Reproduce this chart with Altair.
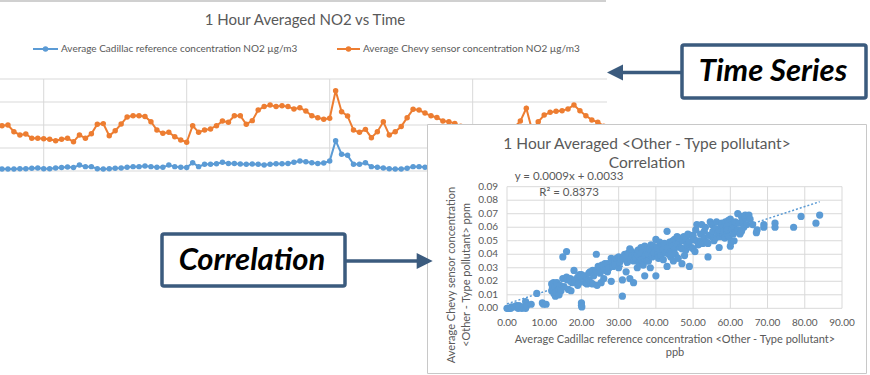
import altair as alt
import pandas as pd

# ---------------- data: time series (hourly) ----------------
hours = list(range(102))
chevy_no2 = [
    19.7, 20.0, 17.1, 15.7, 16.1, 14.2, 14.2, 14.0, 13.8, 13.2,
    13.8, 14.2, 12.7, 15.7, 14.2, 16.2, 20.3, 20.6, 15.3, 17.5,
    20.4, 23.5, 24.0, 24.0, 23.7, 21.4, 17.8, 16.4, 16.8, 14.9,
    13.5, 12.5, 19.7, 16.8, 17.8, 18.3, 19.7, 21.7, 21.2, 24.0,
    24.0, 20.3, 21.9, 26.5, 28.0, 28.7, 28.0, 28.4, 28.0, 27.0,
    27.5, 26.1, 24.0, 23.2, 22.5, 22.9, 34.9, 25.8, 23.9, 17.8,
    16.8, 18.1, 14.5, 17.1, 21.4, 15.7, 17.1, 19.3, 23.2, 26.8,
    26.5, 25.2, 24.0, 23.3, 21.7, 21.4, 20.7, 19.5, 18.0, 16.5,
    15.5, 15.0, 14.5, 14.8, 15.5, 17.0, 19.0, 21.7, 27.3, 17.5,
    21.4, 24.3, 25.5, 26.0, 26.2, 27.0, 28.7, 26.2, 24.0, 22.2,
    21.2, 19.5,
]
cadillac_no2 = [
    0.9, 0.9, 0.9, 1.0, 1.0, 1.2, 1.3, 1.0, 1.0, 1.3,
    1.5, 1.7, 1.5, 2.6, 1.9, 1.9, 1.0, 0.9, 1.0, 1.2,
    1.3, 1.6, 1.9, 1.9, 2.2, 1.9, 1.6, 1.6, 2.6, 1.9,
    1.6, 1.5, 3.6, 1.9, 2.9, 2.9, 3.2, 3.8, 3.3, 3.3,
    3.0, 2.9, 3.0, 2.9, 2.6, 2.9, 3.2, 3.2, 3.3, 3.8,
    4.3, 4.0, 3.6, 3.3, 3.5, 4.3, 13.2, 7.3, 6.8, 2.9,
    2.9, 3.6, 1.9, 1.6, 1.3, 1.0, 0.9, 0.9, 1.2, 1.9,
    1.9, 1.6, 1.5, 1.4, 1.6, 2.0, 2.3, 2.6, 2.2, 1.9,
    1.7, 1.5, 1.4, 1.3, 1.5, 1.8, 2.2, 2.8, 3.5, 2.4,
    2.9, 3.2, 3.3, 3.5, 3.6, 3.9, 3.4, 3.0, 2.7, 2.5,
    2.3, 2.1,
]
ts_y_grid = [0, 10, 20, 30, 40]
ts_x_grid = [7, 31, 55, 79]

# ---------------- data: correlation scatter ----------------
cad_x = [
    0, 0.3, 0.6, 1, 1.2, 2, 2.5, 3, 3.2, 4, 4.2, 5, 5, 5.3, 6.5, 8, 9.5, 9.8, 10.5,
    12, 12, 12.2, 12.5, 12.6, 13, 13, 13.2, 13.4, 14, 14, 14.2, 14.5,
    15, 15, 15.3, 16, 16, 16.2, 16.5, 17, 17.2, 17.5,
    18, 18.2, 19, 19, 19.3, 19.5, 20, 20, 20, 20, 20.1,
    21, 21, 21.3, 21.5, 22, 22, 22.3, 22.5, 23, 23, 23.3,
    24, 24, 24.2, 24.5, 25, 25, 25.3, 25.5,
    26, 26, 26.3, 26.5, 27, 27, 27.4,
    28, 28, 28.3, 28.5, 29, 29, 29.4,
    30, 30, 30.3, 30.6, 31, 31, 31.3, 31.6,
    32, 32, 32.3, 32.6, 33, 33, 33.2, 33.5, 33.7,
    34, 34, 34.3, 34.6, 35, 35, 35.2, 35.5, 35.7,
    36, 36, 36.3, 36.6, 37, 37, 37.2, 37.5, 37.7,
    38, 38, 38.3, 38.5, 38.7, 39, 39, 39.3, 39.6,
    40, 40, 40.2, 40.5, 40.7, 41, 41, 41.3, 41.6,
    42, 42, 42.3, 42.6, 43, 43, 43.2, 43.5, 43.7,
    44, 44, 44.3, 44.5, 44.7, 45, 45, 45.2, 45.5, 45.7,
    46, 46, 46.3, 46.6, 47, 47, 47.2, 47.5, 47.7,
    48, 48, 48.3, 48.6, 49, 49, 49.3, 49.6,
    50, 50, 50.2, 50.5, 50.7, 51, 51, 51.4,
    52, 52, 52.3, 52.6, 53, 53, 53.3, 53.6,
    54, 54, 54.3, 54.6, 55, 55, 55.3, 55.6,
    56, 56, 56.3, 56.6, 57, 57, 57.2, 57.5, 57.7,
    58, 58, 58.2, 58.5, 58.7, 59, 59, 59.2, 59.5, 59.7,
    60, 60, 60.2, 60.4, 60.6, 60.8, 61, 61, 61.3, 61.6,
    62, 62, 62.3, 62.6, 63, 63, 63.3, 63.6,
    64, 64, 64.4, 65, 65.3, 66, 67, 67.2, 69, 69, 72, 72, 77, 79, 83, 84,
]
chevy_y = [
    0.000, 0.000, 0.000, 0.000, 0.001, 0.001, 0.002, 0.000, 0.002, 0.000, 0.001, 0.000, 0.005, 0.002, 0.003, 0.011, 0.004, 0.003, 0.003,
    0.018, 0.013, 0.015, 0.019, 0.011, 0.016, 0.009, 0.012, 0.019, 0.010, 0.014, 0.017, 0.013,
    0.022, 0.038, 0.016, 0.042, 0.023, 0.021, 0.014, 0.022, 0.013, 0.019,
    0.028, 0.021, 0.017, 0.023, 0.019, 0.025, 0.025, 0.023, 0.004, 0.002, 0.001,
    0.019, 0.024, 0.021, 0.018, 0.021, 0.026, 0.027, 0.019, 0.018, 0.028, 0.024,
    0.040, 0.028, 0.017, 0.031, 0.030, 0.026, 0.019, 0.032,
    0.031, 0.022, 0.033, 0.028, 0.033, 0.027, 0.030,
    0.037, 0.020, 0.035, 0.031, 0.035, 0.032, 0.037,
    0.030, 0.038, 0.034, 0.036, 0.021, 0.009, 0.037, 0.040,
    0.027, 0.038, 0.034, 0.041, 0.044, 0.022, 0.036, 0.042, 0.039,
    0.019, 0.035, 0.040, 0.037, 0.030, 0.040, 0.043, 0.033, 0.038,
    0.045, 0.036, 0.041, 0.032, 0.046, 0.024, 0.039, 0.043, 0.035,
    0.040, 0.035, 0.044, 0.030, 0.047, 0.043, 0.038, 0.046, 0.041,
    0.024, 0.051, 0.045, 0.040, 0.037, 0.049, 0.042, 0.039, 0.046,
    0.036, 0.044, 0.048, 0.041, 0.057, 0.031, 0.045, 0.040, 0.049,
    0.038, 0.042, 0.047, 0.050, 0.035, 0.051, 0.044, 0.040, 0.048, 0.053,
    0.048, 0.037, 0.052, 0.045, 0.033, 0.044, 0.050, 0.053, 0.039,
    0.043, 0.052, 0.047, 0.055, 0.031, 0.049, 0.054, 0.045,
    0.044, 0.054, 0.051, 0.042, 0.058, 0.062, 0.050, 0.047,
    0.050, 0.055, 0.062, 0.048, 0.057, 0.052, 0.060, 0.049,
    0.038, 0.048, 0.054, 0.064, 0.062, 0.053, 0.057, 0.050,
    0.052, 0.059, 0.064, 0.056, 0.045, 0.058, 0.053, 0.061, 0.063,
    0.055, 0.060, 0.057, 0.052, 0.064, 0.061, 0.056, 0.058, 0.065, 0.053,
    0.046, 0.066, 0.049, 0.059, 0.062, 0.055, 0.050, 0.060, 0.064, 0.057,
    0.070, 0.058, 0.063, 0.055, 0.057, 0.068, 0.065, 0.060,
    0.067, 0.069, 0.062, 0.069, 0.066, 0.062, 0.056, 0.058, 0.060, 0.062, 0.060, 0.063, 0.060, 0.068, 0.063, 0.069,
]
corr_x_ticks = [0, 10, 20, 30, 40, 50, 60, 70, 80, 90]
corr_y_ticks = [0.00, 0.01, 0.02, 0.03, 0.04, 0.05, 0.06, 0.07, 0.08, 0.09]
trend_x = [0, 84]
trend_y = [0.0033, 0.0789]

# ---------------- styles / layout ----------------
FONT = "Lato"
GRID = "#D9D9D9"
TXT = "#595959"
BLUE = "#5B9BD5"
ORANGE = "#ED7D31"
NAVY = "#3B5B7E"

one = pd.DataFrame({"d": [0]})

ts_xs = alt.Scale(domain=[0, 100], range=[2, 597.8], nice=False, zero=False)
ts_ys = alt.Scale(domain=[0, 40], range=[171, 79], nice=False, zero=False)
cxs = alt.Scale(domain=[0, 90], range=[507, 842], nice=False, zero=False)
cys = alt.Scale(domain=[0, 0.09], range=[308.3, 186.7], nice=False, zero=False)


def txt(text, x, y, size, color=TXT, align="center", baseline="middle", **kw):
    return alt.Chart(one).mark_text(
        text=text, font=FONT, fontSize=size, color=color, align=align,
        baseline=baseline, **kw
    ).encode(x=alt.value(x), y=alt.value(y))


def hrule(x1, x2, y, color, width):
    return alt.Chart(one).mark_rule(color=color, strokeWidth=width).encode(
        x=alt.value(x1), x2=alt.value(x2), y=alt.value(y))


def dot(x, y, color, size):
    return alt.Chart(one).mark_circle(color=color, size=size, opacity=1).encode(
        x=alt.value(x), y=alt.value(y))


layers = []

# ---- time series chart ----
layers.append(hrule(0, 606, 1, "#D0D0D0", 2))
layers.append(txt("1 Hour Averaged NO2 vs Time", 305, 20, 15))
layers.append(hrule(33, 58, 49, BLUE, 2))
layers.append(dot(45.5, 49, BLUE, 30))
layers.append(txt("Average Cadillac reference concentration NO2 µg/m3", 61, 49, 10, align="left"))
layers.append(hrule(337, 360, 49, ORANGE, 2))
layers.append(dot(348.5, 49, ORANGE, 30))
layers.append(txt("Average Chevy sensor concentration NO2 µg/m3", 363, 49, 10, align="left"))

layers.append(
    alt.Chart(pd.DataFrame({"v": ts_y_grid})).mark_rule(color=GRID, strokeWidth=1).encode(
        y=alt.Y("v:Q", scale=ts_ys, axis=None), x=alt.value(0), x2=alt.value(607))
)
layers.append(
    alt.Chart(pd.DataFrame({"h": ts_x_grid})).mark_rule(color=GRID, strokeWidth=1).encode(
        x=alt.X("h:Q", scale=ts_xs, axis=None), y=alt.value(79), y2=alt.value(171))
)
ts_df = pd.DataFrame({"hour": hours, "chevy": chevy_no2, "cadillac": cadillac_no2})
for field, col in (("cadillac", BLUE), ("chevy", ORANGE)):
    enc = dict(x=alt.X("hour:Q", scale=ts_xs, axis=None),
               y=alt.Y(f"{field}:Q", scale=ts_ys, axis=None))
    layers.append(alt.Chart(ts_df).mark_line(color=col, strokeWidth=2).encode(**enc))
    layers.append(alt.Chart(ts_df).mark_circle(color=col, size=30, opacity=1).encode(**enc))

# ---- correlation chart ----
layers.append(
    alt.Chart(one).mark_rect(fill="white", stroke="#C8C8C8", strokeWidth=1).encode(
        x=alt.value(427.5), x2=alt.value(866.5), y=alt.value(124.5), y2=alt.value(373.5))
)
layers.append(
    alt.Chart(pd.DataFrame({"v": corr_y_ticks})).mark_rule(color=GRID, strokeWidth=1).encode(
        y=alt.Y("v:Q", scale=cys, axis=None), x=alt.value(507), x2=alt.value(842))
)
layers.append(
    alt.Chart(pd.DataFrame({"v": corr_x_ticks})).mark_rule(color=GRID, strokeWidth=1).encode(
        x=alt.X("v:Q", scale=cxs, axis=None), y=alt.value(186.7), y2=alt.value(308.3))
)
layers.append(
    alt.Chart(pd.DataFrame({"v": corr_y_ticks})).mark_text(
        font=FONT, fontSize=10, color=TXT, align="right", baseline="middle").encode(
        y=alt.Y("v:Q", scale=cys, axis=None), x=alt.value(498),
        text=alt.Text("v:Q", format=".2f"))
)
layers.append(
    alt.Chart(pd.DataFrame({"v": corr_x_ticks})).mark_text(
        font=FONT, fontSize=10, color=TXT, align="center", baseline="middle").encode(
        x=alt.X("v:Q", scale=cxs, axis=None), y=alt.value(322.7),
        text=alt.Text("v:Q", format=".2f"))
)
sc_df = pd.DataFrame({"x": cad_x, "y": chevy_y})
layers.append(
    alt.Chart(sc_df).mark_circle(color=BLUE, size=52, opacity=1).encode(
        x=alt.X("x:Q", scale=cxs, axis=None), y=alt.Y("y:Q", scale=cys, axis=None))
)
layers.append(
    alt.Chart(pd.DataFrame({"x": trend_x, "y": trend_y})).mark_line(
        color=BLUE, strokeWidth=1.5, strokeDash=[2, 2]).encode(
        x=alt.X("x:Q", scale=cxs, axis=None), y=alt.Y("y:Q", scale=cys, axis=None))
)
layers.append(txt("1 Hour Averaged <Other - Type pollutant>", 647, 144, 15.5))
layers.append(txt("Correlation", 647, 163, 15.5))
layers.append(txt("y = 0.0009x + 0.0033", 569, 177, 11.5))
layers.append(txt("R² = 0.8373", 569, 193, 11.5))
layers.append(txt("Average Cadillac reference  concentration <Other - Type pollutant>", 675, 340, 11))
layers.append(txt("ppb", 675, 353, 11))
layers.append(txt("Average Chevy sensor concentration", 452, 275, 11, angle=270))
layers.append(txt("<Other - Type pollutant> ppm", 467, 275, 11, angle=270))

# ---- callout boxes and arrows ----
layers.append(
    alt.Chart(one).mark_rect(fill="white", stroke=NAVY, strokeWidth=3.5, cornerRadius=2).encode(
        x=alt.value(682), x2=alt.value(866), y=alt.value(45), y2=alt.value(98))
)
layers.append(txt("Time Series", 773, 72, 31, color="#000000", fontWeight="bold", fontStyle="italic"))
layers.append(hrule(620, 682, 72.5, NAVY, 3.5))
layers.append(
    alt.Chart(one).mark_point(shape="M -1 0 L 1 -1 L 1 1 Z", filled=True, color=NAVY,
                              size=256, opacity=1, strokeWidth=0).encode(
        x=alt.value(615), y=alt.value(72.5))
)
layers.append(
    alt.Chart(one).mark_rect(fill="white", stroke=NAVY, strokeWidth=3.5, cornerRadius=2).encode(
        x=alt.value(162), x2=alt.value(345), y=alt.value(234), y2=alt.value(286))
)
layers.append(txt("Correlation", 252, 261, 31, color="#000000", fontWeight="bold", fontStyle="italic"))
layers.append(hrule(345, 420, 261, NAVY, 3.5))
layers.append(
    alt.Chart(one).mark_point(shape="M 1 0 L -1 -1 L -1 1 Z", filled=True, color=NAVY,
                              size=256, opacity=1, strokeWidth=0).encode(
        x=alt.value(424.7), y=alt.value(261))
)

chart = alt.layer(*layers).resolve_scale(
    x="independent", y="independent"
).properties(
    width=870, height=375, autosize=alt.AutoSizeParams(type="none"), padding=0,
    background="white"
).configure_view(stroke=None)

chart.save("out.html", embed_options={"renderer": "svg", "actions": False})
